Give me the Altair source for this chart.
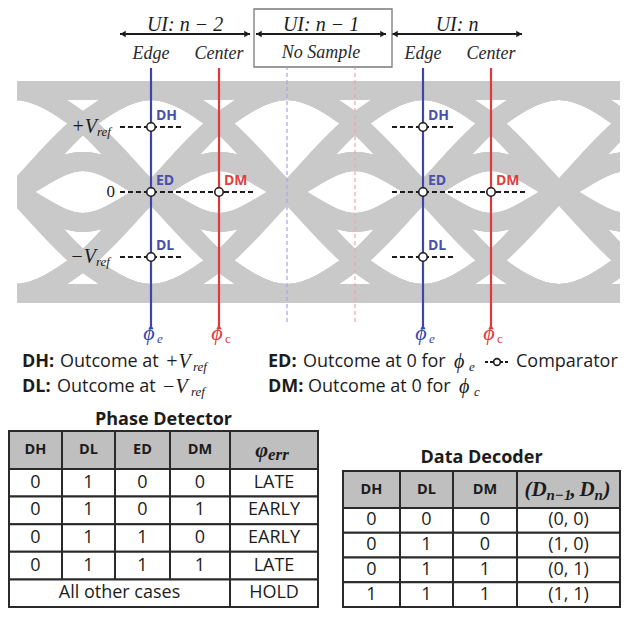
import altair as alt
import pandas as pd

# ------------------------------------------------------------------ data
# bit pattern whose every 5-bit window is drawn as one eye trace
BITS = "00000100011001010011101011011111"
# signal level at an edge (pair of bits) and at a centre (three bits)
EDGE_LEVEL = {"11": 1.0, "10": 0.0, "01": 0.0, "00": -1.0}
CENTER_LEVEL = {"111": 1.0, "011": 0.68, "110": 0.68, "010": 0.30,
                "101": -0.30, "100": -0.68, "001": -0.68, "000": -1.0}
VREF = 0.64
EDGE_PHASES = [1.0, 3.0]          # edge clock phi_e (UI n-2, UI n)
CENTER_PHASES = [1.5, 3.5]        # centre clock phi_c
SKIP_EDGE = [2.0]                 # UI n-1: no sample
SKIP_CENTER = [2.5]
UI_NAMES = ["UI: n \u2212 2", "UI: n \u2212 1", "UI: n"]
UI_MIDS = [1.25, 2.25, 3.25]
EDGE_WORD, CENTER_WORD, NO_SAMPLE = "Edge", "Center", "No Sample"
EDGE_CMP = [("DH", VREF), ("ED", 0.0), ("DL", -VREF)]
CENTER_CMP = [("DM", 0.0)]

PD_TITLE = "Phase Detector"
PD_HEADER = ["DH", "DL", "ED", "DM", "PHI_ERR"]
PD_ROWS = [["0", "1", "0", "0", "LATE"],
           ["0", "1", "0", "1", "EARLY"],
           ["0", "1", "1", "0", "EARLY"],
           ["0", "1", "1", "1", "LATE"]]
PD_OTHER = ["All other cases", "HOLD"]

DD_TITLE = "Data Decoder"
DD_HEADER = ["DH", "DL", "DM", "DPAIR"]
DD_ROWS = [["0", "0", "0", "(0, 0)"],
           ["0", "1", "0", "(1, 0)"],
           ["0", "1", "1", "(0, 1)"],
           ["1", "1", "1", "(1, 1)"]]

# ------------------------------------------------------------------ style / layout
SANS = "Open Sans"
SERIF = "Liberation Serif"
INK = "#1c1c1c"
BLUE, BLUE_T = "#3d47a5", "#4850ad"
RED, RED_T = "#e4393b", "#e0403f"
LBLUE, LRED = "#a3a8e2", "#f3a6a6"
GRAY = "#c9c9c9"
HEAD_FILL = "#bfbfbf"

PAGE = 8
W = 614
H_TOP = 392
H_BOT = 209
UI_PX, EDGE0_X, ZERO_Y, UNIT_PX = 136.0, 15.0, 192.0, 101.5


def U(px):
    return (px - EDGE0_X) / UI_PX


def V(py):
    return (ZERO_Y - py) / UNIT_PX


XS = alt.Scale(domain=[U(PAGE), U(PAGE + W)], nice=False, zero=False)
YS = alt.Scale(domain=[V(PAGE + H_TOP), V(PAGE)], nice=False, zero=False)


def ex(f="u"):
    return alt.X(f"{f}:Q", scale=XS, axis=None)


def ey(f="v"):
    return alt.Y(f"{f}:Q", scale=YS, axis=None)


def tlayer(rows, size, color=INK, font=SANS, weight="normal", style="normal",
           align="left", dx=0, dy=0):
    df = pd.DataFrame(rows, columns=["u", "v", "t"])
    return alt.Chart(df).mark_text(
        fontSize=size, color=color, font=font, fontWeight=weight, fontStyle=style,
        align=align, baseline="middle", dx=dx, dy=dy, clip=True
    ).encode(x=ex(), y=ey(), text="t:N")


# ------------------------------------------------------------------ eye traces
N = len(BITS)


def bit(i):
    return BITS[i % N]


eye_rows = []
for w in range(N):
    for m in range(-1, 5):
        n = w + m
        eye_rows.append({"trace": w, "u": m + 0.5,
                         "v": CENTER_LEVEL[bit(n - 1) + bit(n) + bit(n + 1)]})
        eye_rows.append({"trace": w, "u": m + 1.0,
                         "v": EDGE_LEVEL[bit(n) + bit(n + 1)]})
eye = pd.DataFrame(eye_rows)

eye_layer = alt.Chart(eye).mark_line(
    color=GRAY, strokeWidth=19, interpolate="monotone", clip=True, strokeCap="butt"
).encode(x=ex(), y=ey(), detail="trace:N", order="u:Q")

mask = pd.DataFrame({"u": [U(PAGE), U(620)], "u2": [U(17), U(PAGE + W)],
                     "v": [V(335)] * 2, "v2": [V(60)] * 2})
mask_layer = alt.Chart(mask).mark_rect(color="white", clip=True).encode(
    x=ex(), x2="u2:Q", y=ey(), y2="v2:Q")

# ------------------------------------------------------------------ clock lines


def vlines(us, color, top, bottom, width, dash=None):
    df = pd.DataFrame({"u": us, "v": [V(bottom)] * len(us), "v2": [V(top)] * len(us)})
    kw = dict(color=color, strokeWidth=width, clip=True)
    if dash:
        kw["strokeDash"] = dash
    return alt.Chart(df).mark_rule(**kw).encode(x=ex(), y=ey(), y2="v2:Q")


blue_lines = vlines(EDGE_PHASES, BLUE, 68, 326, 2.2)
red_lines = vlines(CENTER_PHASES, RED, 68, 326, 2.2)
lblue_lines = vlines(SKIP_EDGE, LBLUE, 68, 322, 1.2, [4, 3])
lred_lines = vlines(SKIP_CENTER, LRED, 68, 322, 1.2, [4, 3])


def tips(us, color):
    df = pd.DataFrame({"u": us, "v": [V(327)] * len(us)})
    return alt.Chart(df).mark_point(shape="triangle-up", filled=True, color=color,
                                    size=30, opacity=1, clip=True).encode(x=ex(), y=ey())


# ------------------------------------------------------------------ comparators
cmp_rows = []
for g in EDGE_PHASES:
    cmp_rows.append({"u": g - 0.228, "u2": g + 0.228, "v": VREF})
    cmp_rows.append({"u": g - 0.228, "u2": g + 0.228, "v": -VREF})
    cmp_rows.append({"u": g - 0.228, "u2": g + 0.765, "v": 0.0})
cmp_layer = alt.Chart(pd.DataFrame(cmp_rows)).mark_rule(
    color=INK, strokeWidth=2, strokeDash=[5, 3], clip=True
).encode(x=ex(), x2="u2:Q", y=ey())

samp_rows = []
for g in EDGE_PHASES:
    for name, lv in EDGE_CMP:
        samp_rows.append({"u": g, "v": lv, "t": name, "k": "e"})
for g in CENTER_PHASES:
    for name, lv in CENTER_CMP:
        samp_rows.append({"u": g, "v": lv, "t": name, "k": "c"})
samp = pd.DataFrame(samp_rows)
circles = alt.Chart(samp).mark_point(
    shape="circle", filled=True, fill="white", stroke=INK, strokeWidth=1.6,
    size=72, opacity=1, clip=True
).encode(x=ex(), y=ey())
lab_e = tlayer(samp[samp.k == "e"][["u", "v", "t"]].values.tolist(), 14, BLUE_T,
               weight="bold", dx=5, dy=-11)
lab_c = tlayer(samp[samp.k == "c"][["u", "v", "t"]].values.tolist(), 14, RED_T,
               weight="bold", dx=5, dy=-11)

# level names on the left
lvl_big = tlayer([[U(97), VREF, "+V"], [U(96), -VREF, "\u2212V"]], 20, font=SERIF,
                 style="italic", align="right")
lvl_sub = tlayer([[U(97), VREF, "ref"], [U(96), -VREF, "ref"]], 13, font=SERIF,
                 style="italic", dy=5)
lvl_zero = tlayer([[U(115), 0.0, "0"]], 17, font=SERIF, align="right")

# ------------------------------------------------------------------ header
ui_text = tlayer([[m, V(25), s] for m, s in zip(UI_MIDS, UI_NAMES)], 20, font=SERIF,
                 style="italic", align="center")
arr = pd.DataFrame({"u": [m - 0.478 for m in UI_MIDS], "u2": [m + 0.478 for m in UI_MIDS],
                    "v": [V(34)] * 3})
arr_rule = alt.Chart(arr).mark_rule(color=INK, strokeWidth=2, clip=True).encode(
    x=ex(), x2="u2:Q", y=ey())
head_l = alt.Chart(arr).mark_point(shape="triangle-left", filled=True, color=INK, size=40,
                                   opacity=1, clip=True, xOffset=3).encode(x=ex(), y=ey())
head_r = alt.Chart(arr).mark_point(shape="triangle-right", filled=True, color=INK, size=40,
                                   opacity=1, clip=True, xOffset=-3).encode(x=ex("u2"), y=ey())
box = pd.DataFrame({"u": [U(254)], "u2": [U(392)], "v": [V(67)], "v2": [V(9)]})
box_layer = alt.Chart(box).mark_rect(fillOpacity=0, stroke="#7a7a7a", strokeWidth=1.3,
                                     clip=True).encode(x=ex(), x2="u2:Q", y=ey(), y2="v2:Q")
sub_heads = tlayer([[g, V(54), EDGE_WORD] for g in EDGE_PHASES] +
                   [[g, V(54), CENTER_WORD] for g in CENTER_PHASES] +
                   [[2.25, V(53), NO_SAMPLE]], 18, color="#2a2a2a", font=SERIF,
                   style="italic", align="center")

# ------------------------------------------------------------------ phi labels
phi_e = tlayer([[g, V(333), "\u03d5"] for g in EDGE_PHASES], 22, BLUE, font=SERIF,
               style="italic", align="center", dx=-2)
phi_es = tlayer([[g, V(333), "e"] for g in EDGE_PHASES], 13, BLUE, font=SERIF,
                style="italic", dx=6, dy=6)
phi_c = tlayer([[g, V(333), "\u03d5"] for g in CENTER_PHASES], 22, RED, font=SERIF,
               style="italic", align="center", dx=-2)
phi_cs = tlayer([[g, V(333), "c"] for g in CENTER_PHASES], 13, RED, font=SERIF,
                dx=6, dy=6)

# ------------------------------------------------------------------ legend
L1, L2 = 362, 387
leg_bold = tlayer([[U(22), V(L1), "DH:"], [U(22), V(L2), "DL:"],
                   [U(268), V(L1), "ED:"], [U(268), V(L2), "DM:"]], 18, weight="bold")
leg_reg = tlayer([[U(60), V(L1), "Outcome at"], [U(57), V(L2), "Outcome at"],
                  [U(303), V(L1), "Outcome at 0 for"], [U(308), V(L2), "Outcome at 0 for"],
                  [U(516), V(L1), "Comparator"]], 18)
leg_math = tlayer([[U(165), V(L1), "+V"], [U(162), V(L2), "\u2212V"],
                   [U(454), V(L1), "\u03d5"], [U(459), V(L2), "\u03d5"]], 20, font=SERIF,
                  style="italic")
leg_sub = tlayer([[U(193), V(L1), "ref"], [U(191), V(L2), "ref"],
                  [U(469), V(L1), "e"], [U(474), V(L2), "c"]], 13, font=SERIF,
                 style="italic", dy=5)
leg_dash = alt.Chart(pd.DataFrame({"u": [U(485)], "u2": [U(509)], "v": [V(L1)]})).mark_rule(
    color=INK, strokeWidth=2, strokeDash=[3, 2], clip=True).encode(x=ex(), x2="u2:Q", y=ey())
leg_circ = alt.Chart(pd.DataFrame({"u": [U(497)], "v": [V(L1)]})).mark_point(
    shape="circle", filled=True, fill="white", stroke=INK, strokeWidth=1.6, size=45,
    opacity=1, clip=True).encode(x=ex(), y=ey())

top = alt.layer(
    eye_layer, mask_layer, lblue_lines, lred_lines, blue_lines, red_lines,
    tips(EDGE_PHASES, BLUE), tips(CENTER_PHASES, RED),
    cmp_layer, circles, lab_e, lab_c, lvl_big, lvl_sub, lvl_zero,
    ui_text, arr_rule, head_l, head_r, box_layer, sub_heads,
    phi_e, phi_es, phi_c, phi_cs,
    leg_bold, leg_reg, leg_math, leg_sub, leg_dash, leg_circ
).properties(width=W, height=H_TOP)

# ------------------------------------------------------------------ tables


def table(width, edges, title, title_y, top_y, head_h, row_h, header, rows,
          other=None, special=None):
    XT = alt.Scale(domain=[0, width], nice=False, zero=False)
    YT = alt.Scale(domain=[0, H_BOT], reverse=True, nice=False, zero=False)
    tx = lambda f="x": alt.X(f"{f}:Q", scale=XT, axis=None)
    ty = lambda f="y": alt.Y(f"{f}:Q", scale=YT, axis=None)
    nc = len(edges) - 1
    head_cells, body_cells, head_txt, body_txt = [], [], [], []
    for j in range(nc):
        head_cells.append({"x": edges[j], "x2": edges[j + 1], "y": top_y, "y2": top_y + head_h})
        if header[j] not in special:
            head_txt.append({"x": (edges[j] + edges[j + 1]) / 2, "y": top_y + head_h / 2,
                             "t": header[j]})
    y0 = top_y + head_h
    for r in rows:
        for j in range(nc):
            body_cells.append({"x": edges[j], "x2": edges[j + 1], "y": y0, "y2": y0 + row_h})
            body_txt.append({"x": (edges[j] + edges[j + 1]) / 2, "y": y0 + row_h / 2,
                             "t": r[j]})
        y0 += row_h
    if other:
        spans = [(edges[0], edges[nc - 1]), (edges[nc - 1], edges[nc])]
        for (a, b), t in zip(spans, other):
            body_cells.append({"x": a, "x2": b, "y": y0, "y2": y0 + row_h})
            body_txt.append({"x": (a + b) / 2, "y": y0 + row_h / 2, "t": t})
    layers = []
    for cells, fill in ((head_cells, HEAD_FILL), (body_cells, "white")):
        layers.append(alt.Chart(pd.DataFrame(cells)).mark_rect(
            fill=fill, stroke="#2a2a2a", strokeWidth=2, clip=True
        ).encode(x=tx(), x2="x2:Q", y=ty(), y2="y2:Q"))
    layers.append(alt.Chart(pd.DataFrame(head_txt)).mark_text(
        font=SANS, fontSize=14.5, fontWeight="bold", color=INK, baseline="middle", clip=True
    ).encode(x=tx(), y=ty(), text="t:N"))
    layers.append(alt.Chart(pd.DataFrame(body_txt)).mark_text(
        font=SANS, fontSize=18, color=INK, baseline="middle", clip=True
    ).encode(x=tx(), y=ty(), text="t:N"))
    layers.append(alt.Chart(pd.DataFrame([{"x": (edges[0] + edges[-1]) / 2, "y": title_y,
                                           "t": title}])).mark_text(
        font=SANS, fontSize=18, fontWeight="bold", color=INK, baseline="middle", clip=True
    ).encode(x=tx(), y=ty(), text="t:N"))
    for key, pieces in special.items():
        j = header.index(key)
        cx = (edges[j] + edges[j + 1]) / 2
        cy = top_y + head_h / 2
        for t, off, dy, size, align in pieces:
            layers.append(alt.Chart(pd.DataFrame([{"x": cx + off, "y": cy, "t": t}])).mark_text(
                font=SERIF, fontSize=size, fontWeight="bold", fontStyle="italic", color=INK,
                baseline="middle", align=align, dy=dy, clip=True
            ).encode(x=tx(), y=ty(), text="t:N"))
    return alt.layer(*layers).properties(width=width, height=H_BOT)


PD_W, DD_W = 322, 292
pd_chart = table(PD_W, [1, 54, 107, 162, 222, 310], PD_TITLE, 20, 31, 38, 27.6,
                 PD_HEADER, PD_ROWS, other=PD_OTHER,
                 special={"PHI_ERR": [("\u03c6", -6, 0, 22, "right"),
                                      ("err", -6, 5, 17, "left")]})
dd_chart = table(DD_W, [13, 70, 123, 187, 290], DD_TITLE, 58, 71, 37, 24.75,
                 DD_HEADER, DD_ROWS,
                 special={"DPAIR": [("(D", -44, 0, 21, "left"),
                                    ("n\u22121", -22, 5, 15, "left"),
                                    (",", 2, 0, 21, "left"),
                                    ("D", 11, 0, 21, "left"),
                                    ("n", 26, 5, 15, "left"),
                                    (")", 35, 0, 21, "left")]})

chart = alt.vconcat(
    top, alt.hconcat(pd_chart, dd_chart, spacing=0), spacing=0
).properties(padding=0, background="white").configure_view(strokeWidth=0)

chart.save("out.html", embed_options={"renderer": "svg", "actions": False})
